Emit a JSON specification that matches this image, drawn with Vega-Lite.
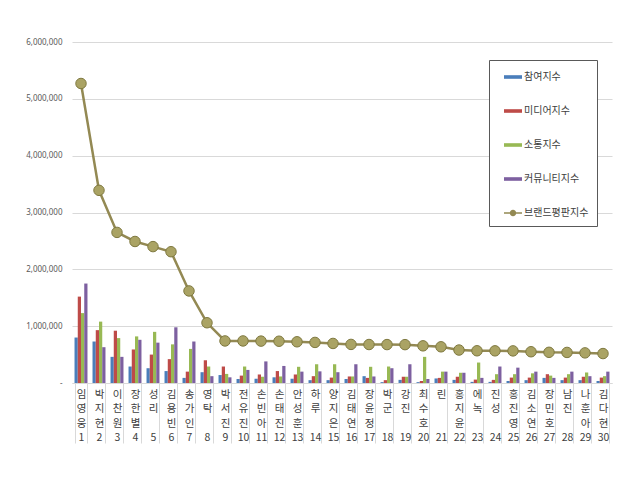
{
  "$schema": "https://vega.github.io/schema/vega-lite/v6.json",
  "width": 540,
  "height": 341,
  "autosize": "none",
  "padding": {"left": 72, "top": 42, "right": 28, "bottom": 99},
  "background": "white",
  "config": {"view": {"stroke": null}},
  "data": {
    "values": [
      {"rank": 1, "name": "임영웅", "series": "참여지수", "value": 800000},
      {"rank": 1, "name": "임영웅", "series": "미디어지수", "value": 1520000},
      {"rank": 1, "name": "임영웅", "series": "소통지수", "value": 1230000},
      {"rank": 1, "name": "임영웅", "series": "커뮤니티지수", "value": 1750000},
      {"rank": 1, "name": "임영웅", "series": "브랜드평판지수", "value": 5270000},
      {"rank": 2, "name": "박지현", "series": "참여지수", "value": 730000},
      {"rank": 2, "name": "박지현", "series": "미디어지수", "value": 930000},
      {"rank": 2, "name": "박지현", "series": "소통지수", "value": 1080000},
      {"rank": 2, "name": "박지현", "series": "커뮤니티지수", "value": 630000},
      {"rank": 2, "name": "박지현", "series": "브랜드평판지수", "value": 3390000},
      {"rank": 3, "name": "이찬원", "series": "참여지수", "value": 460000},
      {"rank": 3, "name": "이찬원", "series": "미디어지수", "value": 920000},
      {"rank": 3, "name": "이찬원", "series": "소통지수", "value": 790000},
      {"rank": 3, "name": "이찬원", "series": "커뮤니티지수", "value": 460000},
      {"rank": 3, "name": "이찬원", "series": "브랜드평판지수", "value": 2650000},
      {"rank": 4, "name": "장한별", "series": "참여지수", "value": 290000},
      {"rank": 4, "name": "장한별", "series": "미디어지수", "value": 590000},
      {"rank": 4, "name": "장한별", "series": "소통지수", "value": 820000},
      {"rank": 4, "name": "장한별", "series": "커뮤니티지수", "value": 760000},
      {"rank": 4, "name": "장한별", "series": "브랜드평판지수", "value": 2490000},
      {"rank": 5, "name": "성리", "series": "참여지수", "value": 260000},
      {"rank": 5, "name": "성리", "series": "미디어지수", "value": 500000},
      {"rank": 5, "name": "성리", "series": "소통지수", "value": 900000},
      {"rank": 5, "name": "성리", "series": "커뮤니티지수", "value": 710000},
      {"rank": 5, "name": "성리", "series": "브랜드평판지수", "value": 2400000},
      {"rank": 6, "name": "김용빈", "series": "참여지수", "value": 210000},
      {"rank": 6, "name": "김용빈", "series": "미디어지수", "value": 420000},
      {"rank": 6, "name": "김용빈", "series": "소통지수", "value": 680000},
      {"rank": 6, "name": "김용빈", "series": "커뮤니티지수", "value": 980000},
      {"rank": 6, "name": "김용빈", "series": "브랜드평판지수", "value": 2310000},
      {"rank": 7, "name": "송가인", "series": "참여지수", "value": 90000},
      {"rank": 7, "name": "송가인", "series": "미디어지수", "value": 200000},
      {"rank": 7, "name": "송가인", "series": "소통지수", "value": 600000},
      {"rank": 7, "name": "송가인", "series": "커뮤니티지수", "value": 730000},
      {"rank": 7, "name": "송가인", "series": "브랜드평판지수", "value": 1620000},
      {"rank": 8, "name": "영탁", "series": "참여지수", "value": 190000},
      {"rank": 8, "name": "영탁", "series": "미디어지수", "value": 400000},
      {"rank": 8, "name": "영탁", "series": "소통지수", "value": 290000},
      {"rank": 8, "name": "영탁", "series": "커뮤니티지수", "value": 120000},
      {"rank": 8, "name": "영탁", "series": "브랜드평판지수", "value": 1060000},
      {"rank": 9, "name": "박서진", "series": "참여지수", "value": 140000},
      {"rank": 9, "name": "박서진", "series": "미디어지수", "value": 290000},
      {"rank": 9, "name": "박서진", "series": "소통지수", "value": 160000},
      {"rank": 9, "name": "박서진", "series": "커뮤니티지수", "value": 100000},
      {"rank": 9, "name": "박서진", "series": "브랜드평판지수", "value": 740000},
      {"rank": 10, "name": "전유진", "series": "참여지수", "value": 70000},
      {"rank": 10, "name": "전유진", "series": "미디어지수", "value": 130000},
      {"rank": 10, "name": "전유진", "series": "소통지수", "value": 290000},
      {"rank": 10, "name": "전유진", "series": "커뮤니티지수", "value": 230000},
      {"rank": 10, "name": "전유진", "series": "브랜드평판지수", "value": 740000},
      {"rank": 11, "name": "손빈아", "series": "참여지수", "value": 75000},
      {"rank": 11, "name": "손빈아", "series": "미디어지수", "value": 150000},
      {"rank": 11, "name": "손빈아", "series": "소통지수", "value": 110000},
      {"rank": 11, "name": "손빈아", "series": "커뮤니티지수", "value": 380000},
      {"rank": 11, "name": "손빈아", "series": "브랜드평판지수", "value": 737000},
      {"rank": 12, "name": "손태진", "series": "참여지수", "value": 100000},
      {"rank": 12, "name": "손태진", "series": "미디어지수", "value": 210000},
      {"rank": 12, "name": "손태진", "series": "소통지수", "value": 115000},
      {"rank": 12, "name": "손태진", "series": "커뮤니티지수", "value": 300000},
      {"rank": 12, "name": "손태진", "series": "브랜드평판지수", "value": 735000},
      {"rank": 13, "name": "안성훈", "series": "참여지수", "value": 75000},
      {"rank": 13, "name": "안성훈", "series": "미디어지수", "value": 150000},
      {"rank": 13, "name": "안성훈", "series": "소통지수", "value": 285000},
      {"rank": 13, "name": "안성훈", "series": "커뮤니티지수", "value": 200000},
      {"rank": 13, "name": "안성훈", "series": "브랜드평판지수", "value": 725000},
      {"rank": 14, "name": "하루", "series": "참여지수", "value": 50000},
      {"rank": 14, "name": "하루", "series": "미디어지수", "value": 120000},
      {"rank": 14, "name": "하루", "series": "소통지수", "value": 330000},
      {"rank": 14, "name": "하루", "series": "커뮤니티지수", "value": 205000},
      {"rank": 14, "name": "하루", "series": "브랜드평판지수", "value": 714000},
      {"rank": 15, "name": "양지은", "series": "참여지수", "value": 50000},
      {"rank": 15, "name": "양지은", "series": "미디어지수", "value": 95000},
      {"rank": 15, "name": "양지은", "series": "소통지수", "value": 330000},
      {"rank": 15, "name": "양지은", "series": "커뮤니티지수", "value": 190000},
      {"rank": 15, "name": "양지은", "series": "브랜드평판지수", "value": 696000},
      {"rank": 16, "name": "김태연", "series": "참여지수", "value": 70000},
      {"rank": 16, "name": "김태연", "series": "미디어지수", "value": 115000},
      {"rank": 16, "name": "김태연", "series": "소통지수", "value": 115000},
      {"rank": 16, "name": "김태연", "series": "커뮤니티지수", "value": 330000},
      {"rank": 16, "name": "김태연", "series": "브랜드평판지수", "value": 679000},
      {"rank": 17, "name": "장윤정", "series": "참여지수", "value": 120000},
      {"rank": 17, "name": "장윤정", "series": "미디어지수", "value": 90000},
      {"rank": 17, "name": "장윤정", "series": "소통지수", "value": 285000},
      {"rank": 17, "name": "장윤정", "series": "커뮤니티지수", "value": 115000},
      {"rank": 17, "name": "장윤정", "series": "브랜드평판지수", "value": 677000},
      {"rank": 18, "name": "박군", "series": "참여지수", "value": 15000},
      {"rank": 18, "name": "박군", "series": "미디어지수", "value": 50000},
      {"rank": 18, "name": "박군", "series": "소통지수", "value": 290000},
      {"rank": 18, "name": "박군", "series": "커뮤니티지수", "value": 260000},
      {"rank": 18, "name": "박군", "series": "브랜드평판지수", "value": 676000},
      {"rank": 19, "name": "강진", "series": "참여지수", "value": 55000},
      {"rank": 19, "name": "강진", "series": "미디어지수", "value": 110000},
      {"rank": 19, "name": "강진", "series": "소통지수", "value": 110000},
      {"rank": 19, "name": "강진", "series": "커뮤니티지수", "value": 330000},
      {"rank": 19, "name": "강진", "series": "브랜드평판지수", "value": 675000},
      {"rank": 20, "name": "최수호", "series": "참여지수", "value": 15000},
      {"rank": 20, "name": "최수호", "series": "미디어지수", "value": 35000},
      {"rank": 20, "name": "최수호", "series": "소통지수", "value": 460000},
      {"rank": 20, "name": "최수호", "series": "커뮤니티지수", "value": 70000},
      {"rank": 20, "name": "최수호", "series": "브랜드평판지수", "value": 654000},
      {"rank": 21, "name": "린", "series": "참여지수", "value": 80000},
      {"rank": 21, "name": "린", "series": "미디어지수", "value": 90000},
      {"rank": 21, "name": "린", "series": "소통지수", "value": 200000},
      {"rank": 21, "name": "린", "series": "커뮤니티지수", "value": 200000},
      {"rank": 21, "name": "린", "series": "브랜드평판지수", "value": 637000},
      {"rank": 22, "name": "홍지윤", "series": "참여지수", "value": 55000},
      {"rank": 22, "name": "홍지윤", "series": "미디어지수", "value": 110000},
      {"rank": 22, "name": "홍지윤", "series": "소통지수", "value": 180000},
      {"rank": 22, "name": "홍지윤", "series": "커뮤니티지수", "value": 180000},
      {"rank": 22, "name": "홍지윤", "series": "브랜드평판지수", "value": 580000},
      {"rank": 23, "name": "에녹", "series": "참여지수", "value": 20000},
      {"rank": 23, "name": "에녹", "series": "미디어지수", "value": 60000},
      {"rank": 23, "name": "에녹", "series": "소통지수", "value": 360000},
      {"rank": 23, "name": "에녹", "series": "커뮤니티지수", "value": 90000},
      {"rank": 23, "name": "에녹", "series": "브랜드평판지수", "value": 567000},
      {"rank": 24, "name": "진성", "series": "참여지수", "value": 20000},
      {"rank": 24, "name": "진성", "series": "미디어지수", "value": 55000},
      {"rank": 24, "name": "진성", "series": "소통지수", "value": 155000},
      {"rank": 24, "name": "진성", "series": "커뮤니티지수", "value": 290000},
      {"rank": 24, "name": "진성", "series": "브랜드평판지수", "value": 566000},
      {"rank": 25, "name": "홍진영", "series": "참여지수", "value": 35000},
      {"rank": 25, "name": "홍진영", "series": "미디어지수", "value": 95000},
      {"rank": 25, "name": "홍진영", "series": "소통지수", "value": 155000},
      {"rank": 25, "name": "홍진영", "series": "커뮤니티지수", "value": 270000},
      {"rank": 25, "name": "홍진영", "series": "브랜드평판지수", "value": 565000},
      {"rank": 26, "name": "김소연", "series": "참여지수", "value": 50000},
      {"rank": 26, "name": "김소연", "series": "미디어지수", "value": 95000},
      {"rank": 26, "name": "김소연", "series": "소통지수", "value": 170000},
      {"rank": 26, "name": "김소연", "series": "커뮤니티지수", "value": 200000},
      {"rank": 26, "name": "김소연", "series": "브랜드평판지수", "value": 550000},
      {"rank": 27, "name": "장민호", "series": "참여지수", "value": 90000},
      {"rank": 27, "name": "장민호", "series": "미디어지수", "value": 155000},
      {"rank": 27, "name": "장민호", "series": "소통지수", "value": 130000},
      {"rank": 27, "name": "장민호", "series": "커뮤니티지수", "value": 90000},
      {"rank": 27, "name": "장민호", "series": "브랜드평판지수", "value": 540000},
      {"rank": 28, "name": "남진", "series": "참여지수", "value": 50000},
      {"rank": 28, "name": "남진", "series": "미디어지수", "value": 95000},
      {"rank": 28, "name": "남진", "series": "소통지수", "value": 155000},
      {"rank": 28, "name": "남진", "series": "커뮤니티지수", "value": 200000},
      {"rank": 28, "name": "남진", "series": "브랜드평판지수", "value": 538000},
      {"rank": 29, "name": "나훈아", "series": "참여지수", "value": 50000},
      {"rank": 29, "name": "나훈아", "series": "미디어지수", "value": 110000},
      {"rank": 29, "name": "나훈아", "series": "소통지수", "value": 185000},
      {"rank": 29, "name": "나훈아", "series": "커뮤니티지수", "value": 120000},
      {"rank": 29, "name": "나훈아", "series": "브랜드평판지수", "value": 530000},
      {"rank": 30, "name": "김다현", "series": "참여지수", "value": 35000},
      {"rank": 30, "name": "김다현", "series": "미디어지수", "value": 95000},
      {"rank": 30, "name": "김다현", "series": "소통지수", "value": 120000},
      {"rank": 30, "name": "김다현", "series": "커뮤니티지수", "value": 200000},
      {"rank": 30, "name": "김다현", "series": "브랜드평판지수", "value": 518000}
    ]
  },
  "encoding": {
    "x": {
      "field": "name",
      "type": "nominal",
      "sort": {"field": "rank", "op": "min"},
      "scale": {"paddingInner": 0.28, "paddingOuter": 0.14},
      "axis": {
        "title": null,
        "domainColor": "#d9d9d9",
        "tickColor": "#d9d9d9",
        "tickBand": "extent",
        "tickSize": 60,
        "labelPadding": -54,
        "labelAngle": 0,
        "labelAlign": "center",
        "labelBaseline": "top",
        "labelLineHeight": 14.5,
        "labelOverlap": false,
        "labelBound": false,
        "labelFont": "Noto Sans CJK KR",
        "labelFontSize": 10.5,
        "labelColor": "#404040",
        "labelExpr": "[['임','영','웅','1'],['박','지','현','2'],['이','찬','원','3'],['장','한','별','4'],['성','리','\u2800','5'],['김','용','빈','6'],['송','가','인','7'],['영','탁','\u2800','8'],['박','서','진','9'],['전','유','진','10'],['손','빈','아','11'],['손','태','진','12'],['안','성','훈','13'],['하','루','\u2800','14'],['양','지','은','15'],['김','태','연','16'],['장','윤','정','17'],['박','군','\u2800','18'],['강','진','\u2800','19'],['최','수','호','20'],['린','\u2800','\u2800','21'],['홍','지','윤','22'],['에','녹','\u2800','23'],['진','성','\u2800','24'],['홍','진','영','25'],['김','소','연','26'],['장','민','호','27'],['남','진','\u2800','28'],['나','훈','아','29'],['김','다','현','30']][indexof(['임영웅','박지현','이찬원','장한별','성리','김용빈','송가인','영탁','박서진','전유진','손빈아','손태진','안성훈','하루','양지은','김태연','장윤정','박군','강진','최수호','린','홍지윤','에녹','진성','홍진영','김소연','장민호','남진','나훈아','김다현'], datum.value)]"
      }
    },
    "y": {
      "field": "value",
      "type": "quantitative",
      "scale": {"domain": [0, 6000000], "nice": false},
      "axis": {
        "title": null,
        "values": [0, 1000000, 2000000, 3000000, 4000000, 5000000, 6000000],
        "labelExpr": "datum.value == 0 ? '-' : format(datum.value, ',')",
        "domain": false,
        "ticks": false,
        "gridColor": "#d9d9d9",
        "labelFont": "Noto Sans",
        "labelFontSize": 8,
        "labelColor": "#595959",
        "labelPadding": 10
      }
    }
  },
  "layer": [
    {
      "transform": [{"filter": "datum.series != '브랜드평판지수'"}],
      "mark": {"type": "bar", "strokeWidth": 0},
      "encoding": {
        "xOffset": {
          "field": "series",
          "type": "nominal",
          "sort": ["참여지수", "미디어지수", "소통지수", "커뮤니티지수"]
        },
        "color": {
          "field": "series",
          "type": "nominal",
          "scale": {
            "domain": ["참여지수", "미디어지수", "소통지수", "커뮤니티지수", "브랜드평판지수"],
            "range": ["#4a7ebb", "#be4b48", "#98b954", "#7d60a0", "#938953"]
          },
          "legend": {
            "title": null,
            "orient": "none",
            "legendX": 417,
            "legendY": 18,
            "strokeColor": "#595959",
            "fillColor": "white",
            "padding": 8,
            "rowPadding": 20,
            "symbolOffset": 7,
            "symbolSize": 324,
            "symbolStrokeWidth": 0,
            "symbolOpacity": 1,
            "labelFont": "Noto Sans CJK KR",
            "labelFontSize": 10,
            "labelColor": "#404040",
            "labelOffset": 2,
            "encode": {
              "symbols": {
                "update": {
                  "shape": {"signal": "datum.value === '브랜드평판지수' ? 'M-1,-0.09H1V0.09H-1Z M0.36,0A0.36,0.36,0,1,1,-0.36,0A0.36,0.36,0,1,1,0.36,0Z' : 'M-1,-0.2H1V0.2H-1Z'"},
                  "fill": {"scale": "color", "field": "value"},
                  "strokeWidth": {"value": 0}
                }
              }
            }
          }
        }
      }
    },
    {
      "transform": [{"filter": "datum.series == '브랜드평판지수'"}],
      "mark": {"type": "line", "strokeWidth": 2.5},
      "encoding": {
        "color": {"field": "series", "type": "nominal"}
      }
    },
    {
      "transform": [{"filter": "datum.series == '브랜드평판지수'"}],
      "mark": {"type": "point", "filled": true, "size": 110, "fill": "#aaa364", "stroke": "#7f7940", "strokeWidth": 1, "opacity": 1}
    }
  ]
}
